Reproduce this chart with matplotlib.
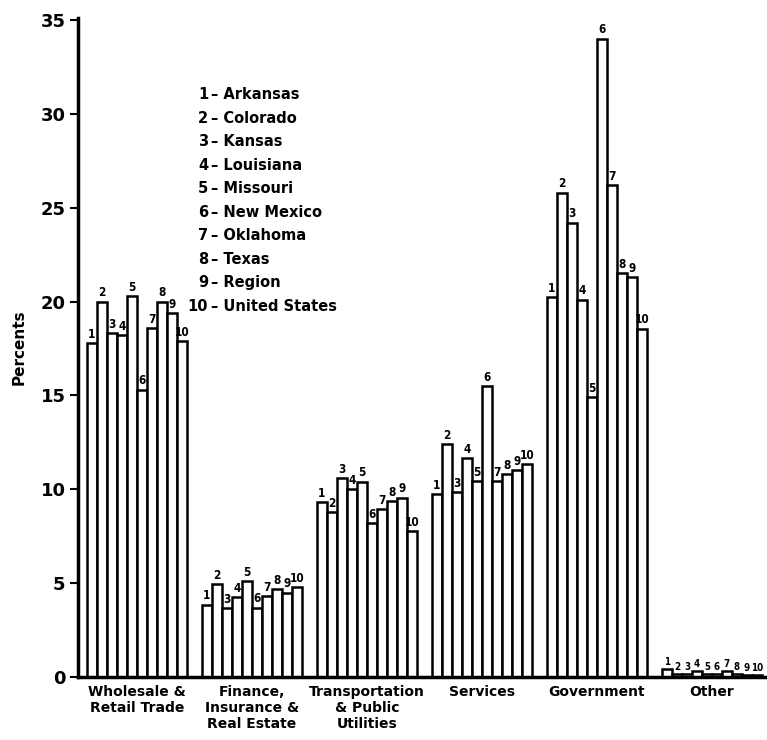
import numpy as np
import matplotlib.pyplot as plt

plt.rcParams['font.family'] = ['DejaVu Sans']

categories = ['Wholesale &\nRetail Trade', 'Finance,\nInsurance &\nReal Estate',
              'Transportation\n& Public\nUtilities', 'Services', 'Government', 'Other']
states = ['Arkansas', 'Colorado', 'Kansas', 'Louisiana', 'Missouri', 'New Mexico',
          'Oklahoma', 'Texas', 'Region', 'United States']

# percent of employment, states 1..10 in each category
wholesale = [17.8, 20.0, 18.3, 18.2, 20.3, 15.3, 18.6, 20.0, 19.4, 17.9]
finance = [3.85, 4.95, 3.65, 4.25, 5.1, 3.7, 4.3, 4.7, 4.5, 4.8]
transport = [9.3, 8.8, 10.6, 10.0, 10.4, 8.2, 8.95, 9.35, 9.55, 7.75]
services = [9.75, 12.4, 9.85, 11.65, 10.45, 15.5, 10.45, 10.8, 11.0, 11.35]
government = [20.25, 25.8, 24.2, 20.1, 14.9, 34.0, 26.2, 21.5, 21.3, 18.55]
other = [0.4, 0.15, 0.15, 0.3, 0.15, 0.15, 0.3, 0.15, 0.1, 0.1]

groups = [wholesale, finance, transport, services, government, other]

fig = plt.figure(figsize=(7.67, 7.4), dpi=100)
ax = fig.add_axes([78 / 767, 63 / 740, 688 / 767, 659 / 740])

w = 0.087
for gi, vals in enumerate(groups):
    xs = gi + (np.arange(len(vals)) - 4.5) * w
    ax.bar(xs, vals, width=w, color='white', edgecolor='black', linewidth=1.8)
    fs = 7 if gi == len(groups) - 1 else 8.5
    for k, (x, v) in enumerate(zip(xs, vals)):
        ax.text(x, v + 0.12, str(k + 1), ha='center', va='bottom',
                fontsize=fs, fontweight='bold', fontstretch='condensed')

# legend of numbers
for i, name in enumerate(states):
    y = 31 - i * 1.25
    ax.text(0.62, y, str(i + 1), ha='right', va='center', fontsize=10.5,
            fontweight='bold')
    ax.text(0.64, y, '\u2013 ' + name, ha='left', va='center', fontsize=10.5,
            fontweight='bold')

ax.set_xlim(-0.513, 5.47)
ax.set_ylim(0, 35.1)
ax.set_yticks(np.arange(0, 36, 5))
ax.set_yticklabels([str(t) for t in range(0, 36, 5)], fontsize=13, fontweight='bold')
ax.set_xticks(range(len(categories)))
ax.set_xticklabels(categories, fontsize=10, fontweight='bold', linespacing=1.15)
ax.tick_params(axis='x', length=0, pad=6)
ax.tick_params(axis='y', length=6, width=1.5, pad=3)
ax.set_ylabel('Percents', fontsize=11, fontweight='bold', labelpad=10)

for s in ['top', 'right']:
    ax.spines[s].set_visible(False)
ax.spines['left'].set_linewidth(2.5)
ax.spines['bottom'].set_linewidth(2.5)

fig.savefig('out.png', dpi=100)
